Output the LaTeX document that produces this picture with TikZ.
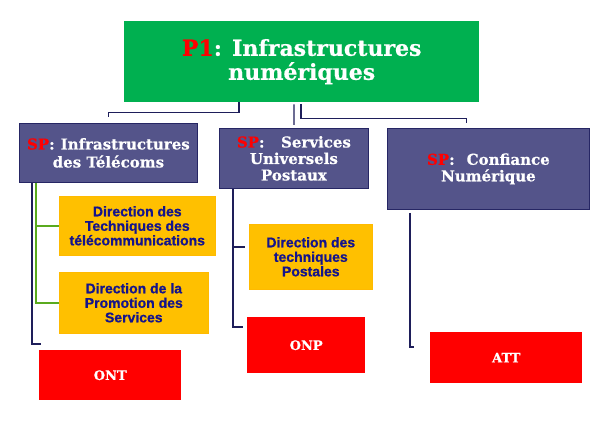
\documentclass[tikz,border=0pt]{standalone}
\usepackage{fontspec}
\setmainfont{DejaVu Serif}[BoldFeatures={FakeBold=0.6}]
\newfontfamily\arialfont{Liberation Sans}[BoldFeatures={FakeBold=0.8}]
\usetikzlibrary{calc}
\definecolor{topgreen}{RGB}{0,176,80}
\definecolor{spfill}{RGB}{84,84,138}
\definecolor{spborder}{RGB}{38,38,100}
\definecolor{diryellow}{RGB}{255,192,0}
\definecolor{dirtext}{RGB}{20,20,140}
\definecolor{orgred}{RGB}{255,0,0}
\definecolor{linenavy}{RGB}{30,30,90}
\definecolor{linegreen}{RGB}{90,170,30}
\begin{document}
\begin{tikzpicture}[x=1pt,y=-1pt,
  box/.style={anchor=north west, inner sep=0pt, align=center},
  topbox/.style={box, fill=topgreen, text=white, font=\bfseries\fontsize{22}{24}\selectfont},
  spbox/.style={box, fill=spfill, draw=spborder, line width=0.8pt, text=white, font=\bfseries\fontsize{15}{16.5}\selectfont},
  dirbox/.style={box, fill=diryellow, draw=diryellow!90!orange, line width=0.6pt, text=dirtext, font=\arialfont\bfseries\fontsize{14}{14.5}\selectfont},
  orgbox/.style={box, fill=orgred, text=white, font=\bfseries\fontsize{13}{16}\selectfont},
  navyline/.style={draw=linenavy, line width=1.3pt},
  greenline/.style={draw=linegreen, line width=1.5pt},
]
\useasboundingbox (0,0) rectangle (600,427);
\fill[white] (0,0) rectangle (600,427);

% top
\node[topbox, minimum width=355pt, minimum height=81pt] (top) at (124,21)
  {\textcolor{red}{P1}: Infrastructures\\numériques};

% sub-programmes
\node[spbox, font=\bfseries\fontsize{15}{18}\selectfont, minimum width=178pt, minimum height=59pt] (b1) at (19,123)
  {\textcolor{red}{SP}:\hspace{0.4em}Infrastructures\\des Télécoms};
\node[spbox, minimum width=149pt, minimum height=60pt] (b2) at (219,128)
  {\textcolor{red}{SP}:\hspace{1.1em}Services\\Universels\\Postaux};
\node[spbox, minimum width=202pt, minimum height=81pt] (b3) at (387,128)
  {\textcolor{red}{SP}:\hspace{0.8em}Confiance\\Numérique};

% directions
\node[dirbox, minimum width=156pt, minimum height=59pt] (y1) at (59,196)
  {Direction des\\Techniques des\\télécommunications};
\node[dirbox, minimum width=149pt, minimum height=61pt] (y2) at (59,272)
  {Direction de la\\Promotion des\\Services};
\node[dirbox, minimum width=123pt, minimum height=65pt] (y3) at (249,224)
  {Direction des\\techniques\\Postales};

% organismes
\node[orgbox, minimum width=142pt, minimum height=50pt] (ont) at (39,350) {ONT};
\node[orgbox, minimum width=118pt, minimum height=56pt] (onp) at (247,317) {ONP};
\node[orgbox, minimum width=152pt, minimum height=51pt] (att) at (430,332) {ATT};

% connectors from the top box
\draw[navyline] ([xshift=115pt]top.south west) -- ++(0,10) -| ([yshift=6pt]b1.north);
\draw[navyline] ([xshift=170pt,yshift=-2pt]top.south west) -- ([yshift=3pt]b2.north);
\draw[navyline] ([xshift=177pt,yshift=-2pt]top.south west) -- ++(0,14) -| ([yshift=5pt,xshift=-22pt]b3.north);

% branch under b1
\coordinate (e1) at (41,344);
\draw[navyline] ([xshift=13pt]b1.south west) |- (e1);
\draw[greenline] ([xshift=17pt]b1.south west) |- (y1.west);
\draw[greenline] ([xshift=17pt]b1.south west) |- (y2.west);

% branch under b2
\coordinate (e2) at (243,327);
\coordinate (e3) at (245,247);
\coordinate (v2) at ([xshift=14pt]b2.south west);
\draw[navyline] (v2) |- (e2);
\draw[navyline] (v2 |- e3) -- (e3);

% branch under b3
\coordinate (e4) at (414,347);
\draw[navyline] ([xshift=23pt,yshift=-3pt]b3.south west) |- (e4);
\end{tikzpicture}
\end{document}
